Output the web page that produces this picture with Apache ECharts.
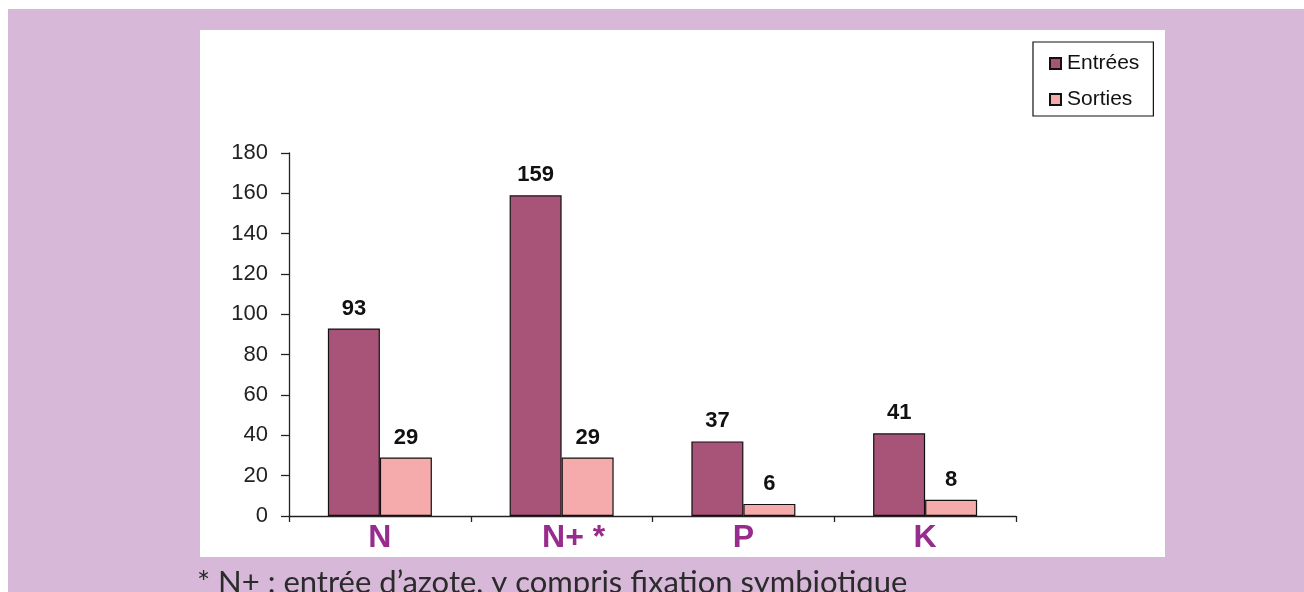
<!DOCTYPE html>
<html>
<head>
<meta charset="utf-8">
<script src="https://cdn.jsdelivr.net/npm/echarts@6/dist/echarts.min.js"></script>
<style>
html,body{margin:0;padding:0;background:#fff;}
#chart{width:1304px;height:592px;}
</style>
</head>
<body>
<div id="chart"></div>
<script>
const categories = ['N', 'N+ *', 'P', 'K'];
const entrees = [93, 159, 37, 41];
const sorties = [29, 29, 6, 8];
const seriesNames = ['Entrées', 'Sorties'];
const yTicks = { min: 0, max: 180, interval: 20 };
const footnote = '* N+ : entrée d\u2019azote, y compris fixation symbiotique';

const FONT = '"Liberation Sans", Arial, sans-serif';
const chart = echarts.init(document.getElementById('chart'), null, { renderer: 'canvas' });
const valueLabel = {
  show: true, position: 'top', distance: 9,
  color: '#111', fontFamily: FONT,
  fontWeight: 'bold', fontSize: 22
};
chart.setOption({
  backgroundColor: '#fff',
  animation: false,
  graphic: [
    { type: 'rect', left: 8, top: 9, shape: { width: 1296, height: 583 }, style: { fill: '#d7b8d8' }, z: -10 },
    { type: 'rect', left: 200, top: 30, shape: { width: 965, height: 527 }, style: { fill: '#ffffff' }, z: -9 },
    { type: 'text', left: 197, top: 567, style: { text: footnote, fill: '#2b2b2b', fontFamily: 'Lato, "Open Sans", sans-serif', fontSize: 31 }, z: 5 }
  ],
  legend: {
    data: seriesNames,
    orient: 'vertical',
    left: 1033, top: 42,
    padding: [11, 14, 6, 16],
    itemGap: 15,
    itemWidth: 11, itemHeight: 11,
    borderColor: '#111', borderWidth: 1.2,
    backgroundColor: '#fff',
    icon: 'rect',
    textStyle: { fontFamily: FONT, fontSize: 21, color: '#111', padding: [0, 0, 0, 1] }
  },
  grid: { left: 289, right: 288, top: 153, bottom: 76, containLabel: false },
  xAxis: {
    type: 'category',
    data: categories,
    axisLine: { lineStyle: { color: '#222', width: 1.3 } },
    axisTick: { show: true, interval: 0, length: 6, lineStyle: { color: '#222', width: 1.3 } },
    axisLabel: {
      interval: 0,
      margin: 6,
      color: '#982c8e', fontFamily: FONT, fontWeight: 'bold', fontSize: 32,
      formatter: function (v) { return v.indexOf('*') >= 0 ? '{pad|}' + v : v; },
      rich: { pad: { width: 24 } }
    },
    splitLine: { show: false }
  },
  yAxis: {
    type: 'value',
    min: yTicks.min, max: yTicks.max, interval: yTicks.interval,
    axisLine: { show: true, lineStyle: { color: '#222', width: 1.3 } },
    axisTick: { show: true, length: 8, lineStyle: { color: '#222', width: 1.3 } },
    axisLabel: { margin: 21, color: '#222', fontFamily: FONT, fontSize: 22 },
    splitLine: { show: false }
  },
  series: [
    {
      name: seriesNames[0], type: 'bar', data: entrees,
      barWidth: 52, barGap: '0%',
      itemStyle: { color: '#a85378', borderColor: '#111', borderWidth: 1.2 },
      label: valueLabel
    },
    {
      name: seriesNames[1], type: 'bar', data: sorties,
      barWidth: 52, barGap: '0%',
      itemStyle: { color: '#f5aaab', borderColor: '#111', borderWidth: 1.2 },
      label: valueLabel
    }
  ]
});
</script>
</body>
</html>
